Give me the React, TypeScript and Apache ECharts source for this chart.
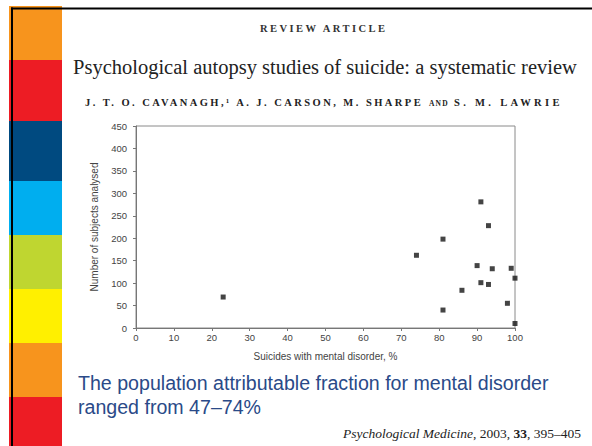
import React, { useEffect, useRef } from "react";
import * as echarts from "echarts";

// ---- data ----
const suicidesWithDisorderPct = [23, 74, 81, 81, 86, 90, 91, 91, 93, 93, 94, 98, 99, 100, 100];
const subjectsAnalysed = [69, 162, 198, 40, 84, 139, 281, 101, 228, 97, 132, 55, 133, 111, 10];

const xAxisName = "Suicides with mental disorder, %";
const yAxisName = "Number of subjects analysed";
const xMin = 0, xMax = 100, xStep = 10;
const yMin = 0, yMax = 450, yStep = 50;

const headerText = "REVIEW ARTICLE";
const titleText = "Psychological autopsy studies of suicide: a systematic review";
const authorsPart1 = "J. T. O. CAVANAGH,\u00B9 A. J. CARSON, M. SHARPE";
const authorsAnd = "AND";
const authorsPart2 = "S. M. LAWRIE";
const bodyLines = ["The population attributable fraction for mental disorder", "ranged from 47\u201374%"];
const citeJournal = "Psychological Medicine";
const citeYear = ", 2003, ";
const citeVolume = "33";
const citePages = ", 395\u2013405";

const bandColors = ["#F7941D", "#ED1C24", "#004A80", "#00AEEF", "#BFD630", "#FFF000", "#F7941D", "#ED1C24"];
const bandEdges = [6, 60, 121, 181, 235, 289, 343, 397, 446];

const css = `
text[style*="10.5px"] { letter-spacing: 2.45px; }
text[style*="10.55px"] { letter-spacing: 3.3px; }
text[style*="7.5px"] { letter-spacing: 1.2px; }
`;

export default function App() {
  const ref = useRef<HTMLDivElement>(null);
  useEffect(() => {
    if (!ref.current) return;
    const chart = echarts.init(ref.current, null, { renderer: "svg" });
    const serif = "'Liberation Serif', 'Times New Roman', serif";
    const sans = "'Liberation Sans', Arial, sans-serif";

    const bands = bandColors.map((c, i) => ({
      type: "rect",
      shape: { x: 9, y: bandEdges[i], width: 53, height: bandEdges[i + 1] - bandEdges[i] },
      style: { fill: c },
      z: 1,
    }));

    chart.setOption({
      animation: false,
      backgroundColor: "#ffffff",
      grid: {
        left: 136,
        right: 77,
        top: 126,
        bottom: 118,
        show: true,
        borderColor: "#8a8a8a",
        borderWidth: 1,
        backgroundColor: "transparent",
      },
      xAxis: {
        type: "value",
        min: xMin,
        max: xMax,
        interval: xStep,
        name: xAxisName,
        nameLocation: "middle",
        nameGap: 23,
        nameTextStyle: { fontSize: 10, color: "#444", fontFamily: sans },
        axisLine: { show: true, lineStyle: { color: "#777", width: 1 } },
        axisTick: { show: true, length: 3, lineStyle: { color: "#777" } },
        axisLabel: { fontSize: 9.5, color: "#444", fontFamily: sans, margin: 4 },
        splitLine: { show: false },
      },
      yAxis: {
        type: "value",
        min: yMin,
        max: yMax,
        interval: yStep,
        name: yAxisName,
        nameLocation: "middle",
        nameRotate: 90,
        nameGap: 37,
        nameTextStyle: { fontSize: 10, color: "#444", fontFamily: sans },
        axisLine: { show: true, lineStyle: { color: "#777", width: 1 } },
        axisTick: { show: true, length: 3, lineStyle: { color: "#777" } },
        axisLabel: { fontSize: 9.5, color: "#444", fontFamily: sans, margin: 9 },
        splitLine: { show: false },
      },
      series: [
        {
          type: "scatter",
          symbol: "rect",
          symbolSize: 5,
          itemStyle: { color: "#151515" },
          data: suicidesWithDisorderPct.map((x, i) => [x, subjectsAnalysed[i]]),
        },
      ],
      graphic: [
        ...bands,
        { type: "rect", shape: { x: 11, y: 7.5, width: 581, height: 2 }, style: { fill: "#000" }, z: 2 },
        { type: "rect", shape: { x: 11, y: 7.5, width: 2, height: 440 }, style: { fill: "#000" }, z: 2 },
        {
          type: "text",
          x: 260,
          y: 28.8,
          style: { text: headerText, fill: "#333", font: `bold 10.5px ${serif}`, align: "left", verticalAlign: "middle" },
        },
        {
          type: "text",
          x: 73,
          y: 66.5,
          style: { text: titleText, fill: "#222", font: `20.5px ${serif}`, align: "left", verticalAlign: "middle" },
        },
        {
          type: "text",
          x: 85,
          y: 102.5,
          style: { text: authorsPart1, fill: "#222", font: `bold 10.5px ${serif}`, align: "left", verticalAlign: "middle" },
        },
        {
          type: "text",
          x: 429,
          y: 103.5,
          style: { text: authorsAnd, fill: "#222", font: `bold 7.5px ${serif}`, align: "left", verticalAlign: "middle" },
        },
        {
          type: "text",
          x: 454,
          y: 102.5,
          style: { text: authorsPart2, fill: "#222", font: `bold 10.55px ${serif}`, align: "left", verticalAlign: "middle" },
        },
        {
          type: "text",
          x: 78,
          y: 382.5,
          style: { text: bodyLines[0], fill: "#2A4A88", font: `19.6px ${sans}`, align: "left", verticalAlign: "middle" },
        },
        {
          type: "text",
          x: 78,
          y: 406.5,
          style: { text: bodyLines[1], fill: "#2A4A88", font: `19.6px ${sans}`, align: "left", verticalAlign: "middle" },
        },
        {
          type: "text",
          x: 581,
          y: 433,
          style: {
            text: `{i|${citeJournal}}{n|${citeYear}}{b|${citeVolume}}{n|${citePages}}`,
            align: "right",
            verticalAlign: "middle",
            rich: {
              i: { fontFamily: serif, fontSize: 13.5, fontStyle: "italic", fill: "#222" },
              n: { fontFamily: serif, fontSize: 13.5, fill: "#222" },
              b: { fontFamily: serif, fontSize: 13.5, fontWeight: "bold", fill: "#222" },
            },
          },
        },
      ],
    });
    return () => chart.dispose();
  }, []);
  return (
    <>
      <style>{css}</style>
      <div ref={ref} style={{ position: "fixed", left: 0, top: 0, width: 592, height: 446 }} />
    </>
  );
}
